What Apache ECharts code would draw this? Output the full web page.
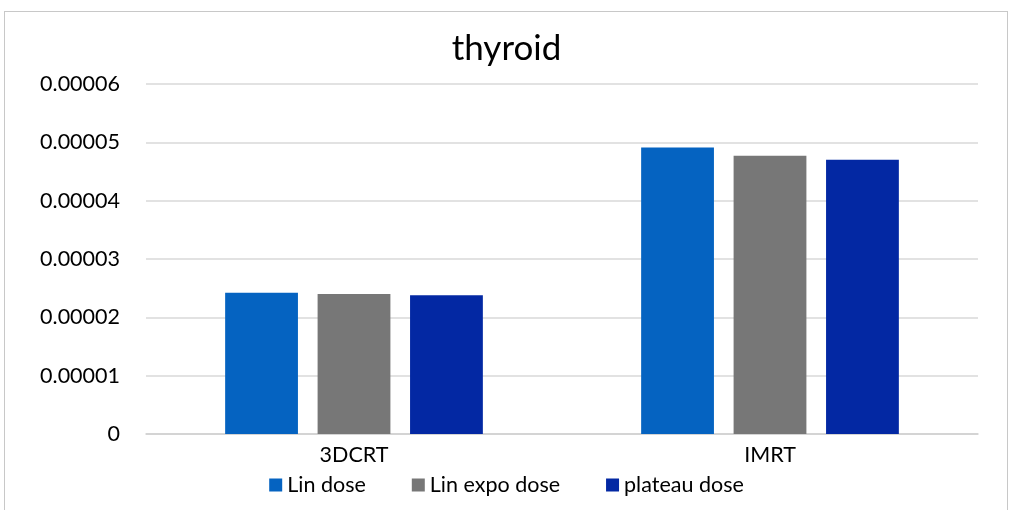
<!DOCTYPE html>
<html><head><meta charset="utf-8">
<script src="https://cdn.jsdelivr.net/npm/echarts@6/dist/echarts.min.js"></script>
<style>
html,body{margin:0;padding:0;background:#fff;}
#wrap{position:relative;width:1013px;height:510px;overflow:hidden;}
#frame{position:absolute;left:4px;top:11px;width:1004px;height:520px;border:1px solid #C8C8C8;box-sizing:border-box;}
#chart{position:absolute;left:0;top:0;width:1013px;height:510px;}
</style></head>
<body>
<div id="wrap"><div id="frame"></div><div id="chart"></div></div>
<script>
const categories = ['3DCRT', 'IMRT'];
const linDose = [0.0000242, 0.0000491];
const linExpoDose = [0.0000240, 0.0000477];
const plateauDose = [0.0000238, 0.0000470];
const seriesNames = ['Lin dose', 'Lin expo dose', 'plateau dose'];
const yTickLabels = ['0', '0.00001', '0.00002', '0.00003', '0.00004', '0.00005', '0.00006'];

const font = 'Lato, "Open Sans", sans-serif';
const chart = echarts.init(document.getElementById('chart'));
const colors = ['#0563C1', '#777777', '#0328A3'];
const data = [linDose, linExpoDose, plateauDose];
chart.setOption({
  animation: false,
  title: { text: 'thyroid', left: 'center', top: 26,
    textStyle: { fontFamily: font, fontSize: 35, fontWeight: 'normal', color: '#000' } },
  grid: { left: 146, right: 35, top: 84, bottom: 76, containLabel: false },
  legend: { bottom: 9, left: 'center', itemWidth: 13, itemHeight: 13, itemGap: 46,
    icon: 'rect', textStyle: { fontFamily: font, fontSize: 21.5, color: '#000' },
    data: seriesNames },
  xAxis: { type: 'category', data: categories,
    axisLine: { lineStyle: { color: '#D0D0D0', width: 1.5 } },
    axisTick: { show: false },
    axisLabel: { fontFamily: font, fontSize: 21.5, color: '#000', margin: 10 } },
  yAxis: { type: 'value', min: 0, max: 0.00006, interval: 0.00001,
    axisLine: { show: false }, axisTick: { show: false },
    splitLine: { lineStyle: { color: '#D9D9D9', width: 1.5 } },
    axisLabel: { fontFamily: font, fontSize: 21.5, color: '#000', margin: 26,
      formatter: (v) => yTickLabels[Math.round(v / 0.00001)] } },
  series: seriesNames.map((n, i) => ({
    name: n, type: 'bar', data: data[i], barWidth: '17.5%', barGap: '27%',
    itemStyle: { color: colors[i] }
  }))
});
</script>
</body></html>
